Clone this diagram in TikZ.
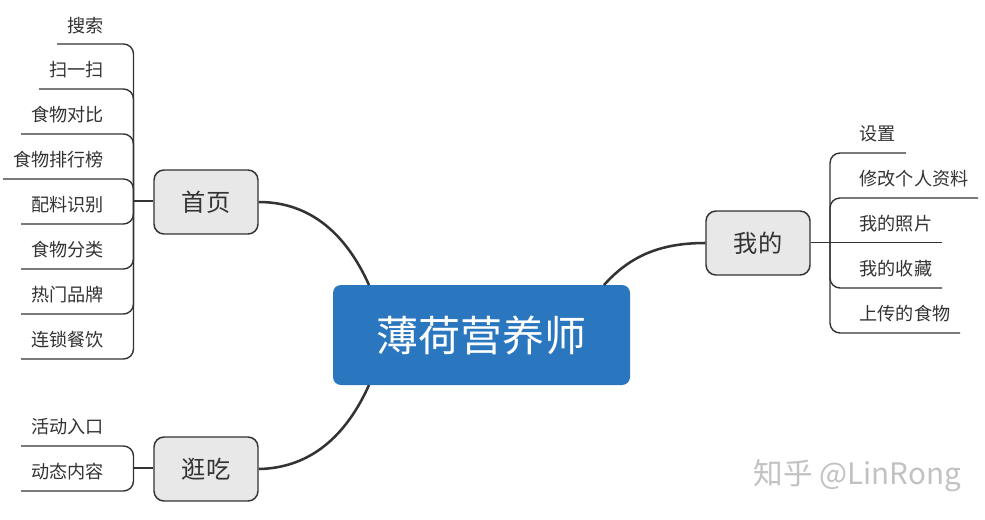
\documentclass[tikz,border=0pt]{standalone}
\usepackage{fontspec}
\setmainfont{Noto Sans CJK SC}
\definecolor{linec}{HTML}{333333}
\definecolor{hubfill}{HTML}{E8E8E8}
\definecolor{mainblue}{HTML}{2A77BF}
\definecolor{textc}{HTML}{333333}
\tikzset{
  hub/.style={draw=linec,line width=1.1pt,fill=hubfill,rounded corners=7.5pt,minimum width=78pt,minimum height=48pt,inner sep=0pt,text=textc,font=\fontsize{18.2}{20}\selectfont},
  mainbox/.style={fill=mainblue,rounded corners=6pt,minimum width=222.75pt,minimum height=75pt,inner sep=0pt,text=white,font=\fontsize{31.5}{34}\selectfont},
  leafl/.style={anchor=east,inner sep=0pt,text=textc,font=\fontsize{13.6}{15}\selectfont},
  leafr/.style={anchor=west,inner sep=0pt,text=textc,font=\fontsize{13.6}{15}\selectfont},
  branch/.style={draw=linec,line width=1.05pt,rounded corners=7.5pt},
  stem/.style={draw=linec,line width=1.05pt},
  bigcurve/.style={draw=linec,line width=1.9pt},
  mark text/.style={inner sep=0pt,text=black!24,font=\fontsize{22.2}{25}\selectfont}
}
\begin{document}
\begin{tikzpicture}[x=0.75pt,y=-0.75pt]
\useasboundingbox[fill=white] (0,0) rectangle (985,519);
\node[mainbox] (main) at (481.5,335) {薄荷营养师};
\node[hub] (home) at (206,202) {首页};
\node[hub] (eat) at (206,469) {逛吃};
\node[hub] (mine) at (758,243) {我的};
% main curves
\coordinate (mA) at (369,285);
\coordinate (mB) at (369,385);
\coordinate (mC) at (604,285);
\draw[bigcurve] (home.east) .. controls (312,202) and (347,236) .. (mA);
\draw[bigcurve] (eat.east) .. controls (312,468) and (347,434) .. (mB);
\draw[bigcurve] (mine.west) .. controls (660,243) and (630,256) .. (mC);
% home leaves
\node[leafl] (a1) at (104.3,25.7) {搜索};
\node[leafl] (a2) at (104.3,69.7) {扫一扫};
\node[leafl] (a3) at (104.3,114.7) {食物对比};
\node[leafl] (a4) at (104.3,159.7) {食物排行榜};
\node[leafl] (a5) at (104.3,204.7) {配料识别};
\node[leafl] (a6) at (104.3,249.7) {食物分类};
\node[leafl] (a7) at (104.3,294.7) {热门品牌};
\node[leafl] (a8) at (104.3,339.7) {连锁餐饮};
\coordinate (ja) at (133.5,201);
\coordinate (e1) at (57,44);
\coordinate (e2) at (39,89);
\coordinate (e3) at (21,134);
\coordinate (e4) at (3,179);
\coordinate (e5) at (21,224);
\coordinate (e6) at (21,269);
\coordinate (e7) at (21,314);
\coordinate (e8) at (21,359);
\draw[stem] (home.west |- ja) -- (ja);
\foreach \e in {e1,e2,e3,e4,e5,e6,e7,e8}{\draw[branch] (ja) |- (\e);}
% eat leaves
\node[leafl] (b1) at (104.3,427) {活动入口};
\node[leafl] (b2) at (104.3,472) {动态内容};
\coordinate (jb) at (133.5,468);
\coordinate (f1) at (21,446);
\coordinate (f2) at (21,491);
\draw[stem] (eat.west |- jb) -- (jb);
\foreach \e in {f1,f2}{\draw[branch] (jb) |- (\e);}
% mine leaves
\node[leafr] (c1) at (859.4,134) {设置};
\node[leafr] (c2) at (859.4,178.6) {修改个人资料};
\node[leafr] (c3) at (859.4,223.6) {我的照片};
\node[leafr] (c4) at (859.4,268.6) {我的收藏};
\node[leafr] (c5) at (859.4,313.6) {上传的食物};
\coordinate (jc) at (830,242.7);
\coordinate (g1) at (906,153);
\coordinate (g2) at (978,198);
\coordinate (g3) at (942,242.7);
\coordinate (g4) at (942,288);
\coordinate (g5) at (960,333);
\draw[stem] (mine.east |- g3) -- (g3);
\foreach \e in {g1,g2,g4,g5}{\draw[branch] (jc) |- (\e);}
% watermark
\node[mark text] (wm) at (857.5,476) {知乎 @LinRong};
\end{tikzpicture}
\end{document}
